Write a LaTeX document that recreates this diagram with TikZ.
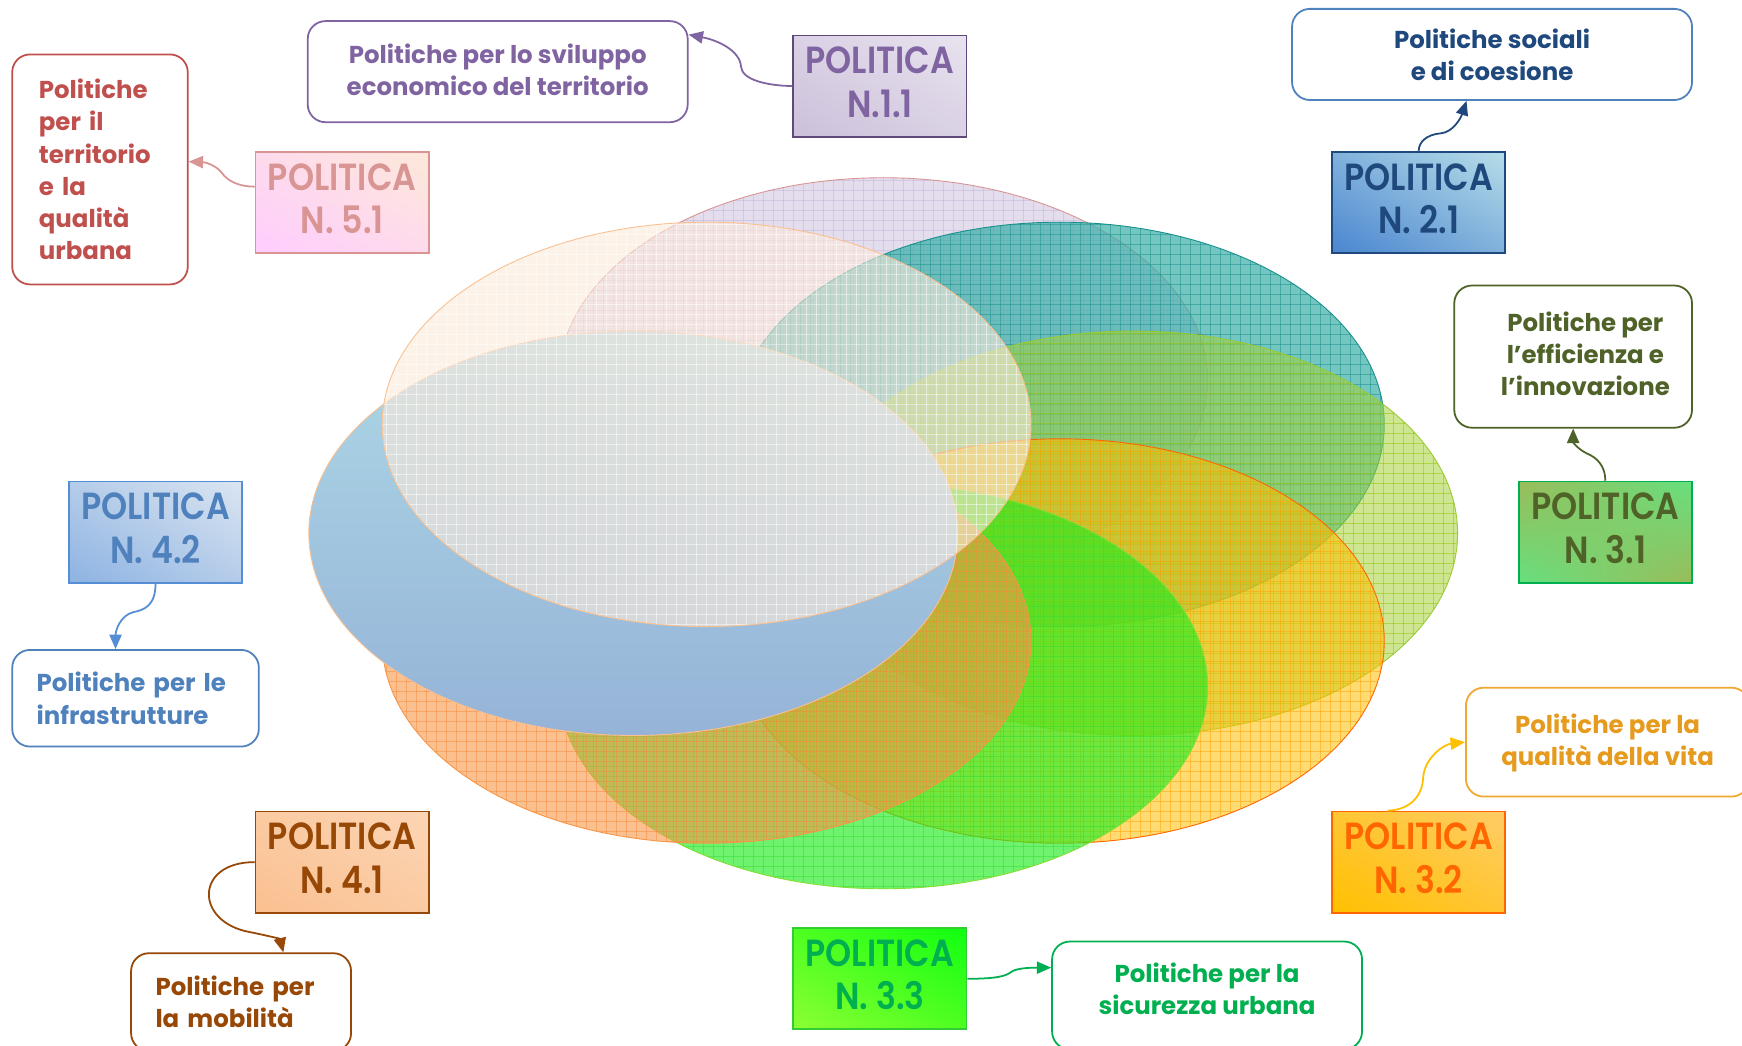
\documentclass[tikz,border=0pt]{standalone}
\usepackage{fontspec}
\setmainfont{Poppins}
\IfFontExistsTF{Poppins SemiBold}
  {\newfontfamily\polfont{Poppins SemiBold}[FakeStretch=0.88]\newcommand\polweight{}}
  {\newfontfamily\polfont{Poppins}[FakeStretch=0.85]\newcommand\polweight{\bfseries}}
\usetikzlibrary{arrows.meta,calc,shadings}
\definecolor{purpleT}{HTML}{8064A2}
\definecolor{purpleD}{HTML}{5F497A}
\definecolor{redT}{HTML}{C0504D}
\definecolor{pinkB}{HTML}{D99594}
\definecolor{navy}{HTML}{1F497D}
\definecolor{blueM}{HTML}{4F81BD}
\definecolor{blueL}{HTML}{558ED5}
\definecolor{oliveT}{HTML}{4F6228}
\definecolor{greenB}{HTML}{00B050}
\definecolor{greenL}{HTML}{33CC33}
\definecolor{orangeT}{HTML}{FF6600}
\definecolor{goldT}{HTML}{E69B1E}
\definecolor{goldB}{HTML}{F0A830}
\definecolor{yellowA}{HTML}{FFC000}
\definecolor{brownT}{HTML}{974806}
\definecolor{peachL}{HTML}{FAC090}
\definecolor{skyT}{HTML}{ADD8E6}
\definecolor{skyB}{HTML}{95B3D7}
% box shading colours
\definecolor{c11a}{HTML}{CCC0DA}\definecolor{c11b}{HTML}{E8E3EF}
\definecolor{c21a}{HTML}{4A86D0}\definecolor{c21b}{HTML}{B7DDE8}
\definecolor{c31a}{HTML}{66E07F}\definecolor{c31b}{HTML}{9BBB59}
\definecolor{c32a}{HTML}{FFC000}\definecolor{c32b}{HTML}{FFCC66}
\definecolor{c33a}{HTML}{8CFF33}\definecolor{c33b}{HTML}{10FF10}
\definecolor{c41a}{HTML}{FAC090}\definecolor{c41b}{HTML}{FCD5B5}
\definecolor{c42a}{HTML}{8DB3E2}\definecolor{c42b}{HTML}{DBE5F1}
\definecolor{c51a}{HTML}{FFCCFF}\definecolor{c51b}{HTML}{FDE9D9}
\newcommand\VennEll[6]{%
  \definecolor{vfill}{HTML}{#3}\definecolor{vgrid}{HTML}{#5}\definecolor{vline}{HTML}{#6}%
  \begin{scope}
    \clip (#1,#2) ellipse (292pt and 182pt);
    \fill[vfill, fill opacity=#4] (#1,#2) ellipse (292pt and 182pt);
    \foreach \k in {-33,...,33}{
      \draw[vgrid, line width=0.6pt, opacity=0.5] ({#1+\k*9},{#2-190}) -- ({#1+\k*9},{#2+190});}
    \foreach \k in {-21,...,21}{
      \draw[vgrid, line width=0.6pt, opacity=0.5] ({#1-300},{#2+\k*9}) -- ({#1+300},{#2+\k*9});}
  \end{scope}
  \draw[vline, line width=0.8pt] (#1,#2) ellipse (292pt and 182pt);
}
\tikzset{
  polbox/.style={draw, line width=1.6pt, minimum width=156pt, minimum height=91pt,
    inner sep=0pt, align=center, text depth=7pt, font=\polfont\polweight\fontsize{34}{39}\selectfont},
  diag/.style n args={2}{lower left=#1, upper right=#2, upper left=#1!50!#2, lower right=#1!50!#2},
  txtbox/.style={draw, fill=white, rounded corners=16pt, line width=1.6pt,
    font=\bfseries\fontsize{22}{29}\selectfont},
  conn/.style={line width=1.6pt, -{Triangle[length=13pt,width=11pt]}},
}
\begin{document}
\begin{tikzpicture}[x=1pt,y=-1pt]
\fill[white] (0,0) rectangle (1568,941);
\useasboundingbox (0,0) rectangle (1568,941);

% ---- ellipses ----
\VennEll{795}{342}{E2DAEC}{0.9}{C4B4D8}{D99594}
\VennEll{954}{382}{3AAEA8}{0.7}{17908B}{17908B}
\VennEll{1020}{480}{A6D23A}{0.55}{92C400}{99CC33}
\VennEll{954}{577}{FFC000}{0.55}{FFA000}{FF6600}
\VennEll{795}{618}{22EE22}{0.65}{33DD33}{88DD33}
\VennEll{636}{577}{F79646}{0.6}{F58A3A}{F79646}
\shade[top color=skyT, bottom color=skyB] (570,480) ellipse (292pt and 182pt);
\draw[peachL, line width=0.8pt] (570,480) ellipse (292pt and 182pt);
\VennEll{636}{382}{FDEADA}{0.6}{FFFFFF}{FAC090}

% ---- POLITICA boxes ----
\node[polbox, draw=purpleD, text=purpleT, diag={c11a}{c11b}] (N11) at (792,77.5) {POLITICA\\N.1.1};
\node[polbox, draw=navy, text=navy, diag={c21a}{c21b}] (N21) at (1277,182) {POLITICA\\N. 2.1};
\node[polbox, draw=greenB, text=oliveT, upper left=c31b, upper right=c31a, lower left=c31a, lower right=c31b] (N31) at (1445,479) {POLITICA\\N. 3.1};
\node[polbox, draw=orangeT, text=orangeT, diag={c32a}{c32b}] (N32) at (1277,776) {POLITICA\\N. 3.2};
\node[polbox, draw=greenL, text=greenB, diag={c33a}{c33b}] (N33) at (792,881) {POLITICA\\N. 3.3};
\node[polbox, draw=brownT, text=brownT, diag={c41a}{c41b}] (N41) at (308,776) {POLITICA\\N. 4.1};
\node[polbox, draw=blueL, text=blueM, diag={c42a}{c42b}] (N42) at (140,479) {POLITICA\\N. 4.2};
\node[polbox, draw=pinkB, text=pinkB, diag={c51a}{c51b}] (N51) at (308,182) {POLITICA\\N. 5.1};

% ---- text boxes ----
\node[txtbox, draw=purpleT, text=purpleT, align=center, minimum width=342pt, minimum height=91pt, text depth=4pt] (T11) at (448,64.5)
  {Politiche per lo sviluppo\\economico del territorio};
\node[txtbox, draw=redT, text=redT, align=left, text width=110pt, inner xsep=24pt, minimum height=207pt] (T51) at (90,152.5)
  {Politiche\\per il\\territorio\\e la\\qualità\\urbana};
\node[txtbox, draw=blueM, text=navy, align=center, minimum width=360pt, minimum height=82pt] (T21) at (1343,49)
  {Politiche sociali\\e di coesione};
\node[txtbox, draw=oliveT, text=oliveT, align=center, minimum width=214pt, minimum height=128pt, text depth=5pt] (T31) at (1416,321)
  {\hspace*{22pt}Politiche per\\\hspace*{22pt}l’efficienza e\\\hspace*{22pt}l’innovazione};
\node[txtbox, draw=goldB, text=goldT, align=center, minimum width=255pt, minimum height=98pt, text depth=5pt] (T32) at (1447,668)
  {Politiche per la\\qualità della vita};
\node[txtbox, draw=greenB, text=greenB, align=center, minimum width=279pt, minimum height=97pt, text depth=12pt] (T33) at (1086.5,896)
  {Politiche per la\\sicurezza urbana};
\node[txtbox, draw=brownT, text=brownT, align=left, text width=154pt, inner xsep=22pt, minimum height=88pt] (T41) at (217,902)
  {Politiche per\\la mobilità};
\node[txtbox, draw=blueM, text=blueM, align=left, text width=178pt, inner xsep=22pt, minimum height=87pt] (T42) at (122,628.5)
  {Politiche per le\\infrastrutture};

% ---- connector ends ----
\coordinate (a11) at ([yshift=-13pt]T11.north east);
\coordinate (s51) at ([yshift=14pt]N51.west);
\coordinate (a51) at ([yshift=7pt]T51.east);
\coordinate (a21) at ([xshift=-23pt]T21.south);
\coordinate (s32) at ([xshift=-28pt]N32.north);
\coordinate (a33) at ([yshift=25pt]T33.west);
\coordinate (a41) at ([xshift=38pt]T41.north);
\coordinate (a42) at ([xshift=-18pt]T42.north);

% ---- connectors ----
\draw[conn, purpleT] (N11.west) .. controls (690,77) and (668,72) .. (667,60) .. controls (666,45) and (645,36) .. (a11);
\draw[conn, pinkB] (s51) .. controls (215,168) and (205,163) .. (200,156) .. controls (195,149) and (185,146) .. (a51);
\draw[conn, navy] (N21.north) .. controls (1277,128) and (1284,121) .. (1297,120) .. controls (1308,119) and (1315,106) .. (a21);
\draw[conn, oliveT] (N31.north) .. controls (1445,420) and (1438,412) .. (1428,408) .. controls (1420,404) and (1416,398) .. (T31.south);
\draw[conn, yellowA] (s32) .. controls (1268,729) and (1280,718) .. (1281,700) .. controls (1282,682) and (1300,670) .. (T32.west);
\draw[conn, greenB] (N33.east) .. controls (895,881) and (905,879) .. (910,875) .. controls (915,871) and (930,871) .. (a33);
\draw[conn, brownT] (N41.west) .. controls (175,776) and (175,830) .. (225,839) .. controls (240,842) and (252,845) .. (a41);
\draw[conn, blueL] (N42.south) .. controls (140,545) and (130,549) .. (120,551) .. controls (108,554) and (104,568) .. (a42);
\end{tikzpicture}
\end{document}
